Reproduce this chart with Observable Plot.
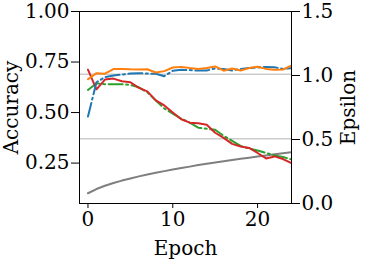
<!DOCTYPE html>
<html>
<head>
<meta charset="utf-8">
<script src="https://cdn.jsdelivr.net/npm/d3@7"></script>
<script src="https://cdn.jsdelivr.net/npm/@observablehq/plot@0.6"></script>
<style>
  html, body { margin: 0; padding: 0; background: #fff; }
</style>
</head>
<body>
<div id="chart"></div>
<script>
const epochs = d3.range(0, 25);
const blueAcc = [0.48, 0.65, 0.675, 0.683, 0.688, 0.693, 0.695, 0.693, 0.692, 0.68, 0.707, 0.712, 0.71, 0.708, 0.708, 0.718, 0.715, 0.708, 0.716, 0.72, 0.723, 0.726, 0.724, 0.716, 0.72];
const orangeAcc = [0.665, 0.695, 0.692, 0.715, 0.716, 0.714, 0.713, 0.714, 0.698, 0.705, 0.723, 0.726, 0.72, 0.716, 0.72, 0.728, 0.707, 0.718, 0.708, 0.72, 0.727, 0.716, 0.712, 0.713, 0.732];
const greenAcc = [0.612, 0.645, 0.64, 0.64, 0.64, 0.637, 0.625, 0.6, 0.56, 0.52, 0.495, 0.47, 0.45, 0.425, 0.42, 0.415, 0.385, 0.36, 0.335, 0.322, 0.312, 0.3, 0.288, 0.28, 0.268];
const redAcc = [0.712, 0.615, 0.663, 0.668, 0.655, 0.65, 0.622, 0.605, 0.56, 0.535, 0.5, 0.467, 0.45, 0.447, 0.44, 0.4, 0.375, 0.345, 0.332, 0.325, 0.3, 0.273, 0.283, 0.27, 0.25];
const epsilon = [0.08, 0.113, 0.139, 0.16, 0.179, 0.196, 0.212, 0.226, 0.24, 0.253, 0.265, 0.277, 0.288, 0.3, 0.31, 0.32, 0.33, 0.34, 0.349, 0.358, 0.367, 0.375, 0.384, 0.392, 0.4];
const refLines = [0.69, 0.37];
const accTicks = [0.25, 0.5, 0.75, 1.0];
const epsTicks = [0.0, 0.5, 1.0, 1.5];
const xTicks = [0, 10, 20];

const accDomain = [0.05, 1.0];
const epsDomain = [0, 1.5];
// map epsilon values onto the accuracy scale (twin axis)
const epsToAcc = e => accDomain[0] + (e - epsDomain[0]) * (accDomain[1] - accDomain[0]) / (epsDomain[1] - epsDomain[0]);
const accToEps = a => epsDomain[0] + (a - accDomain[0]) * (epsDomain[1] - epsDomain[0]) / (accDomain[1] - accDomain[0]);

const mk = arr => epochs.map((e, i) => ({epoch: e, v: arr[i]}));
const epsData = epochs.map((e, i) => ({epoch: e, v: epsToAcc(epsilon[i])}));

const dashdot = "14,3.5,2,3.5";
const lw = 2;

const chart = Plot.plot({
  width: 371,
  height: 266,
  marginLeft: 79,
  marginRight: 80,
  marginTop: 11,
  marginBottom: 63,
  style: {fontFamily: "DejaVu Serif", fontSize: "20px", color: "#000", background: "#fff"},
  x: {domain: [-1, 24]},
  y: {domain: accDomain},
  marks: [
    Plot.ruleY(refLines, {stroke: "#cccccc", strokeWidth: 1.5}),
    Plot.line(epsData, {x: "epoch", y: "v", stroke: "#7f7f7f", strokeWidth: lw, clip: true}),
    Plot.line(mk(greenAcc), {x: "epoch", y: "v", stroke: "#2ca02c", strokeWidth: lw, strokeDasharray: dashdot, clip: true}),
    Plot.line(mk(redAcc), {x: "epoch", y: "v", stroke: "#d62728", strokeWidth: lw, clip: true}),
    Plot.line(mk(blueAcc), {x: "epoch", y: "v", stroke: "#1f77b4", strokeWidth: lw, strokeDasharray: dashdot, clip: true}),
    Plot.line(mk(orangeAcc), {x: "epoch", y: "v", stroke: "#ff7f0e", strokeWidth: lw, clip: true}),
    Plot.frame({stroke: "#000", strokeWidth: 1}),
    Plot.axisX({ticks: xTicks, tickSize: 5, tickPadding: 3, tickFormat: d3.format("d"), label: "Epoch", labelArrow: "none", labelAnchor: "center", labelOffset: 51}),
    Plot.axisY({ticks: accTicks, tickSize: 8, tickPadding: 2, tickFormat: d3.format(".2f"), label: "Accuracy", labelArrow: "none", labelAnchor: "center", labelOffset: 76}),
    Plot.axisY({anchor: "right", ticks: epsTicks.map(epsToAcc), tickSize: 8, tickPadding: 2, tickFormat: d => accToEps(d).toFixed(1), label: "Epsilon", labelArrow: "none", labelAnchor: "center", labelOffset: 63})
  ]
});
document.getElementById("chart").appendChild(chart);
</script>
</body>
</html>
